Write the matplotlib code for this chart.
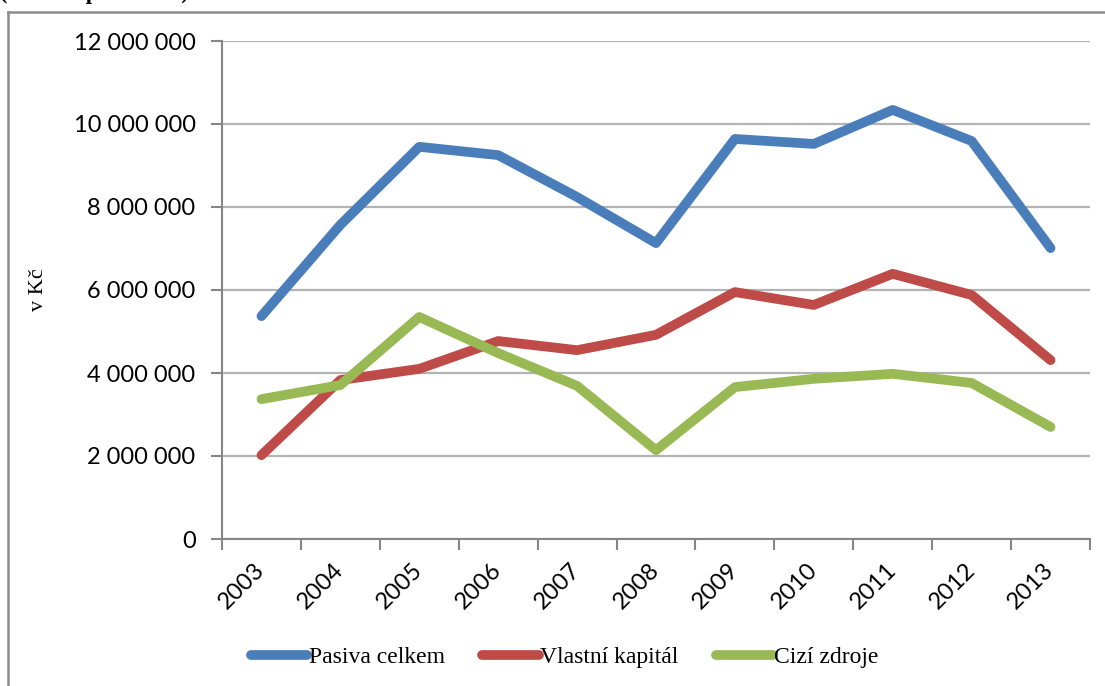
import matplotlib.pyplot as plt
from matplotlib.lines import Line2D
from matplotlib.ticker import FuncFormatter, FixedLocator
import numpy as np

# Data (v Kč)
years = ['2003', '2004', '2005', '2006', '2007', '2008',
         '2009', '2010', '2011', '2012', '2013']
pasiva_celkem = [5370000, 7570000, 9450000, 9250000, 8240000, 7130000,
                 9640000, 9520000, 10340000, 9590000, 7010000]
vlastni_kapital = [2020000, 3830000, 4100000, 4770000, 4550000, 4920000,
                   5950000, 5640000, 6390000, 5880000, 4310000]
cizi_zdroje = [3370000, 3710000, 5350000, 4480000, 3690000, 2140000,
               3660000, 3860000, 3980000, 3760000, 2700000]

series = [
    ('Pasiva celkem', pasiva_celkem, '#4A7EBB'),
    ('Vlastní kapitál', vlastni_kapital, '#BE4B48'),
    ('Cizí zdroje', cizi_zdroje, '#98B954'),
]

fig = plt.figure(figsize=(11.05, 6.86), dpi=100)
ax = fig.add_axes([222 / 1105, 1 - 539 / 686, (1090 - 222) / 1105, (539 - 41) / 686])

x = np.arange(len(years))
for name, vals, col in series:
    ax.plot(x, vals, color=col, lw=7, label=name, solid_capstyle='round',
            solid_joinstyle='round', zorder=3)

ax.set_xlim(-0.5, len(years) - 0.5)
ax.set_ylim(0, 12000000)
ax.set_yticks(np.arange(0, 12000001, 2000000))
ax.yaxis.set_major_formatter(FuncFormatter(lambda v, p: f'{int(v):,}'.replace(',', ' ')))
ax.grid(axis='y', color='#b3b3b3', lw=1.6, zorder=1)

ax.set_xticks(x)
ax.set_xticklabels(years, rotation=45, ha='right', va='center',
                   rotation_mode='anchor', fontfamily='Lato', fontsize=17)
ax.tick_params(axis='x', which='major', length=0, pad=20)
ax.xaxis.set_minor_locator(FixedLocator(np.arange(-0.5, len(years), 1.0)))
ax.tick_params(axis='x', which='minor', length=8, width=1.5, color='#868686')
ax.tick_params(axis='y', length=8, width=1.5, color='#868686', pad=11)
for lab in ax.get_yticklabels():
    lab.set_fontfamily('Lato')
    lab.set_fontsize(17)

for side in ['top', 'right']:
    ax.spines[side].set_visible(False)
for side in ['left', 'bottom']:
    ax.spines[side].set_color('#868686')
    ax.spines[side].set_linewidth(1.5)

ax.set_ylabel('v Kč', fontfamily='Liberation Serif', fontsize=16, labelpad=0)
ax.yaxis.set_label_coords(-0.2, 0.5)

leg = fig.legend(loc='center', bbox_to_anchor=(0.511, 1 - 657 / 686), ncol=3,
                 frameon=False, handlelength=2.4, handletextpad=0.05,
                 columnspacing=1.6, prop={'family': 'Liberation Serif', 'size': 17})

# outer chart frame (partly cut off at right/bottom)
fig.add_artist(Line2D([8 / 1105, 1.0], [1 - 12 / 686, 1 - 12 / 686],
                      transform=fig.transFigure, color='#8c8c8c', lw=1.8))
fig.add_artist(Line2D([8 / 1105, 8 / 1105], [1 - 12 / 686, 0.0],
                      transform=fig.transFigure, color='#8c8c8c', lw=1.8))

# cut-off caption above the chart
fig.text(0.0, 1 + 1 / 686, '(vlastní zpracování)', fontfamily='Liberation Serif',
         fontweight='bold', fontsize=16, va='baseline', ha='left')

fig.savefig('out.png', dpi=100)
